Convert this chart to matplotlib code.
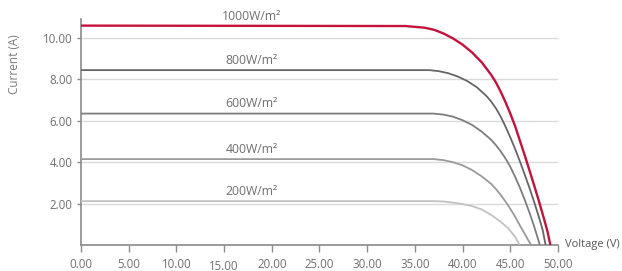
import matplotlib
matplotlib.use('Agg')
import matplotlib.pyplot as plt
import matplotlib.transforms as mtransforms

plt.rcParams['font.family'] = ['Open Sans', 'DejaVu Sans']

# ── Data (voltage V, current A) ──
v_1000 = [0, 34.0, 36.0, 37.0, 38.0, 39.0, 40.0, 41.0, 42.0, 43.0, 43.5, 44.0, 44.5,
          45.0, 45.5, 46.0, 46.5, 47.0, 47.5, 48.0, 48.5, 48.9, 49.2]
i_1000 = [10.6, 10.58, 10.5, 10.4, 10.22, 9.98, 9.68, 9.3, 8.83, 8.22, 7.85, 7.4, 6.9,
          6.35, 5.75, 5.05, 4.35, 3.62, 2.88, 2.12, 1.32, 0.65, 0.0]

v_800 = [0, 36.5, 37.5, 38.5, 39.5, 40.5, 41.5, 42.5, 43.0, 43.5, 44.0, 44.5, 45.0,
         45.5, 46.0, 46.5, 47.0, 47.5, 48.0, 48.4, 48.7]
i_800 = [8.45, 8.45, 8.4, 8.3, 8.14, 7.92, 7.62, 7.2, 6.93, 6.6, 6.2, 5.72, 5.2,
         4.65, 4.05, 3.42, 2.77, 2.08, 1.35, 0.72, 0.0]

v_600 = [0, 37.0, 38.0, 39.0, 40.0, 41.0, 42.0, 43.0, 43.5, 44.0, 44.5, 45.0, 45.5,
         46.0, 46.5, 47.0, 47.5, 48.1]
i_600 = [6.35, 6.35, 6.3, 6.2, 6.03, 5.8, 5.48, 5.08, 4.82, 4.52, 4.18, 3.78, 3.3,
         2.78, 2.2, 1.58, 0.9, 0.0]

v_400 = [0, 37.0, 38.0, 39.0, 40.0, 41.0, 42.0, 43.0, 43.5, 44.0, 44.5, 45.0, 45.5,
         46.0, 46.5, 46.9, 47.2]
i_400 = [4.15, 4.15, 4.1, 4.0, 3.85, 3.62, 3.32, 2.95, 2.7, 2.42, 2.1, 1.75, 1.37,
         0.95, 0.55, 0.22, 0.0]

v_200 = [0, 37.0, 38.0, 39.0, 40.0, 41.0, 42.0, 43.0, 44.0, 44.8, 45.5, 46.0]
i_200 = [2.12, 2.12, 2.1, 2.05, 1.98, 1.88, 1.72, 1.45, 1.12, 0.8, 0.4, 0.0]

labels = ['1000W/m²', '800W/m²', '600W/m²', '400W/m²', '200W/m²']
x_ticks = [0, 5, 10, 15, 20, 25, 30, 35, 40, 45, 50]
y_ticks = [2, 4, 6, 8, 10]

# ── Styles ──
series = [
    (v_1000, i_1000, '#c4123a', 1.7),
    (v_800, i_800, '#666666', 1.3),
    (v_600, i_600, '#7d7d7d', 1.3),
    (v_400, i_400, '#9a9a9a', 1.3),
    (v_200, i_200, '#c2c2c2', 1.3),
]
TEXT_C = '#6e6e6e'
LABEL_X = 17.9

fig = plt.figure(figsize=(6.22, 2.71), dpi=100)
ax = fig.add_axes([0.1302, 0.0959, 0.7669, 0.834])
ax.set_xlim(0, 50)
ax.set_ylim(0, 10.92)

# grid lines
for y in y_ticks:
    ax.axhline(y, color='#dadada', lw=1.0, zorder=1)

for (v, i, c, lw), lab in zip(series, labels):
    ax.plot(v, i, color=c, lw=lw, solid_capstyle='butt', solid_joinstyle='round', zorder=3)
    ax.text(LABEL_X, i[0] + 0.15, lab, ha='center', va='bottom',
            fontsize=8.8, color=TEXT_C, zorder=4)

for s in ['top', 'right']:
    ax.spines[s].set_visible(False)
for s in ['left', 'bottom']:
    ax.spines[s].set_color('#8a8a8a')
    ax.spines[s].set_linewidth(1.2)

ax.set_xticks(x_ticks)
ax.set_xticklabels([f'{t:.2f}' for t in x_ticks])
ax.set_yticks(y_ticks)
ax.set_yticklabels([f'{t:.2f}' for t in y_ticks])
ax.tick_params(axis='x', direction='out', length=5, width=1, color='#8a8a8a',
               labelsize=8.3, labelcolor=TEXT_C, pad=4)
ax.tick_params(axis='y', direction='out', length=3, width=1, color='#8a8a8a',
               labelsize=8.3, labelcolor=TEXT_C, pad=3)

# the "15.00" label sits a little lower in the original
lbl = ax.get_xticklabels()[3]
lbl.set_transform(lbl.get_transform() +
                  mtransforms.ScaledTranslation(0, -2 / 100, fig.dpi_scale_trans))

fig.text(0.024, 0.765, 'Current (A)', rotation=90, ha='center', va='center',
         fontsize=8.5, color='#7a7a7a')
fig.text(0.908, 0.096, 'Voltage (V)', ha='left', va='center',
         fontsize=8, color='#555555')

fig.savefig('out.png', dpi=100, facecolor='white')
